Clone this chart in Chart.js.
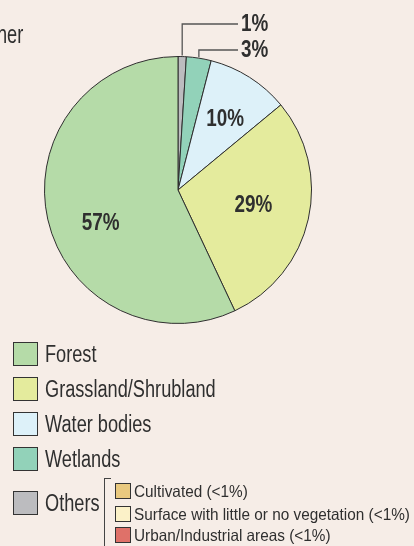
<!DOCTYPE html>
<html><head><meta charset="utf-8">
<script src="https://cdn.jsdelivr.net/npm/chart.js@4.4.1/dist/chart.umd.min.js"></script>
<style>
html,body{margin:0;padding:0;background:#f6ede7;}
#wrap{position:relative;width:414px;height:546px;overflow:hidden;font-family:"Liberation Sans",Arial,sans-serif;color:#2f2f2f;}
#c{position:absolute;left:0;top:0;}
.box{position:absolute;box-sizing:border-box;border:1.5px solid #333;}
.txt{position:absolute;white-space:nowrap;line-height:1;transform-origin:0 0;}
</style></head>
<body>
<div id="wrap">
<canvas id="c" width="414" height="546"></canvas>
<div class="txt" style="left:-3px;top:21px;font-size:26px;transform:scaleX(0.7);">ner</div>
</div>
<script>
// ---- data ----
const categories = ["Others", "Wetlands", "Water bodies", "Grassland/Shrubland", "Forest"];
const shares = [1, 3, 10, 29, 57];
const sliceColors = ["#bcbcbf", "#92d2b9", "#ddf1f9", "#e4eb9d", "#b5dba8"];
const legendOrder = ["Forest", "Grassland/Shrubland", "Water bodies", "Wetlands", "Others"];
const othersParts = ["Cultivated (<1%)", "Surface with little or no vegetation (<1%)", "Urban/Industrial areas (<1%)"];
const othersColors = ["#e9c97f", "#fbf1c8", "#df7169"];

const FONT = '"Liberation Sans",Arial,sans-serif';
const SX = 0.82; // horizontal condensing to mimic a condensed face

// label placement: inside (angle shift deg, radius fraction) or outside (leader)
const labelStyle = [
  {out:true, y:24}, {out:true, y:50},
  {da:1, rf:0.64}, {da:-1.3, rf:0.575}, {da:-10.6, rf:0.63}
];

function drawText(ctx, txt, x, y, align){
  ctx.save();
  ctx.translate(x, y);
  ctx.scale(SX, 1);
  ctx.textAlign = align;
  ctx.fillText(txt, 0, 0);
  ctx.restore();
}

const labelPlugin = {
  id:'labels',
  afterDatasetsDraw(chart){
    const ctx = chart.ctx;
    const meta = chart.getDatasetMeta(0);
    ctx.save();
    ctx.font = 'bold 23px ' + FONT;
    ctx.fillStyle = '#2f2f2f';
    ctx.textBaseline = 'middle';
    meta.data.forEach((arc, i) => {
      const p = arc.getProps(['x','y','startAngle','endAngle','outerRadius']);
      const mid = (p.startAngle + p.endAngle)/2;
      const st = labelStyle[i];
      const txt = shares[i] + '%';
      if (st.out) {
        const sx = p.x + Math.cos(mid)*p.outerRadius;
        const sy = p.y + Math.sin(mid)*p.outerRadius;
        const ex = 238;
        ctx.strokeStyle = '#555';
        ctx.lineWidth = 1.3;
        ctx.beginPath();
        ctx.moveTo(sx, sy - 1);
        ctx.lineTo(sx, st.y);
        ctx.lineTo(ex, st.y);
        ctx.stroke();
        drawText(ctx, txt, ex + 3, st.y + 1, 'left');
      } else {
        const a = mid + st.da*Math.PI/180;
        const r = p.outerRadius*st.rf;
        drawText(ctx, txt, p.x + Math.cos(a)*r, p.y + Math.sin(a)*r + 1, 'center');
      }
    });
    ctx.restore();
  }
};

new Chart(document.getElementById('c'), {
  type:'pie',
  data:{labels:categories, datasets:[{data:shares, backgroundColor:sliceColors, borderColor:'#2e2e2e', borderWidth:1}]},
  options:{
    responsive:false, animation:false,
    layout:{padding:{left:44, top:56, right:102, bottom:222}},
    plugins:{legend:{display:false}, tooltip:{enabled:false}}
  },
  plugins:[labelPlugin]
});

// ---- HTML legend ----
const wrap = document.getElementById('wrap');
const rowTops = [342, 377, 412, 447, 491];
legendOrder.forEach((name, k) => {
  const col = sliceColors[categories.indexOf(name)];
  const b = document.createElement('div');
  b.className = 'box';
  b.style.cssText = `left:13px;top:${rowTops[k]}px;width:25px;height:24px;background:${col};`;
  wrap.appendChild(b);
  const t = document.createElement('div');
  t.className = 'txt';
  t.textContent = name;
  t.style.cssText = `left:45px;top:${rowTops[k]+1}px;font-size:23px;transform:scaleX(0.79);`;
  wrap.appendChild(t);
});
// bracket
const br = document.createElement('div');
br.style.cssText = 'position:absolute;left:104px;top:478px;width:6px;height:80px;border-left:1.3px solid #444;border-top:1.3px solid #444;';
wrap.appendChild(br);
const subTops = [483, 506, 527];
othersParts.forEach((name, k) => {
  const b = document.createElement('div');
  b.className = 'box';
  b.style.cssText = `left:115px;top:${subTops[k]}px;width:16px;height:16px;border-width:1.2px;background:${othersColors[k]};`;
  wrap.appendChild(b);
  const t = document.createElement('div');
  t.className = 'txt';
  t.textContent = name;
  t.style.cssText = `left:134px;top:${subTops[k]}px;font-size:16.5px;transform:scaleX(0.93);`;
  wrap.appendChild(t);
});
</script>
</body></html>
